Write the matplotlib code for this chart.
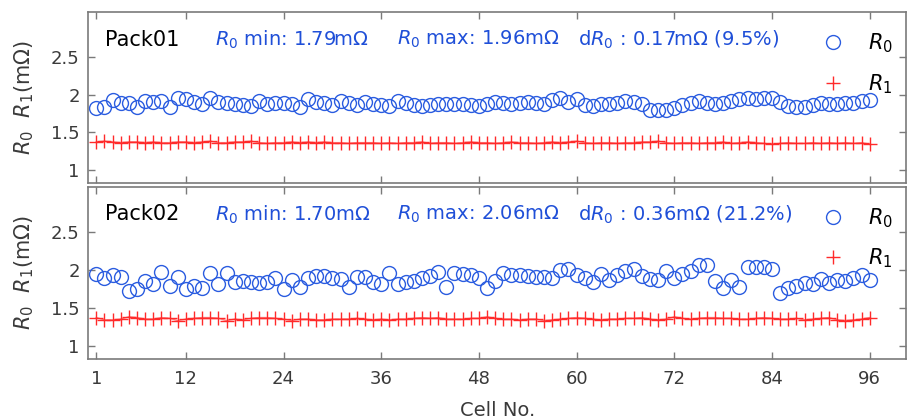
import matplotlib
matplotlib.use('Agg')
import matplotlib.pyplot as plt
import numpy as np

plt.rcParams['font.family'] = ['DejaVu Sans']
plt.rcParams['mathtext.fontset'] = 'dejavusans'

# data
cells = np.arange(1, 97)

pack01_r0 = [1.82, 1.83, 1.93, 1.89, 1.89, 1.83, 1.92, 1.90, 1.91, 1.84, 1.95, 1.94, 1.90, 1.87, 1.96, 1.90,
             1.89, 1.87, 1.86, 1.85, 1.91, 1.88, 1.89, 1.89, 1.87, 1.83, 1.94, 1.90, 1.89, 1.86, 1.92, 1.89,
             1.86, 1.90, 1.87, 1.86, 1.85, 1.91, 1.89, 1.86, 1.85, 1.86, 1.87, 1.87, 1.88, 1.87, 1.86, 1.85,
             1.88, 1.90, 1.89, 1.88, 1.89, 1.90, 1.89, 1.87, 1.93, 1.95, 1.90, 1.94, 1.86, 1.85, 1.87, 1.88,
             1.89, 1.92, 1.90, 1.88, 1.80, 1.79, 1.80, 1.82, 1.86, 1.89, 1.92, 1.89, 1.88, 1.89, 1.92, 1.94,
             1.95, 1.94, 1.95, 1.96, 1.90, 1.85, 1.84, 1.83, 1.86, 1.89, 1.87, 1.88, 1.89, 1.89, 1.91, 1.93]
pack01_r1 = [1.37, 1.38, 1.37, 1.36, 1.37, 1.37, 1.36, 1.37, 1.36, 1.36, 1.37, 1.37, 1.36, 1.37, 1.38, 1.36,
             1.36, 1.37, 1.37, 1.38, 1.36, 1.35, 1.36, 1.36, 1.37, 1.36, 1.37, 1.36, 1.37, 1.36, 1.36, 1.35,
             1.36, 1.36, 1.36, 1.35, 1.36, 1.35, 1.36, 1.36, 1.37, 1.35, 1.36, 1.36, 1.35, 1.36, 1.37, 1.36,
             1.36, 1.35, 1.36, 1.37, 1.36, 1.36, 1.35, 1.36, 1.37, 1.36, 1.37, 1.38, 1.36, 1.35, 1.36, 1.36,
             1.35, 1.36, 1.36, 1.37, 1.37, 1.38, 1.36, 1.35, 1.36, 1.36, 1.35, 1.36, 1.36, 1.37, 1.35, 1.36,
             1.37, 1.36, 1.35, 1.34, 1.35, 1.36, 1.35, 1.35, 1.36, 1.35, 1.36, 1.35, 1.36, 1.35, 1.36, 1.34]

pack02_r0 = [1.95, 1.89, 1.94, 1.91, 1.72, 1.75, 1.85, 1.82, 1.97, 1.79, 1.91, 1.75, 1.79, 1.76, 1.96, 1.82,
             1.96, 1.84, 1.86, 1.84, 1.83, 1.84, 1.89, 1.75, 1.87, 1.77, 1.90, 1.92, 1.92, 1.90, 1.88, 1.78,
             1.91, 1.91, 1.84, 1.82, 1.96, 1.82, 1.84, 1.86, 1.89, 1.92, 1.97, 1.77, 1.96, 1.95, 1.94, 1.90,
             1.76, 1.85, 1.96, 1.94, 1.94, 1.92, 1.91, 1.91, 1.90, 2.00, 2.01, 1.94, 1.90, 1.84, 1.95, 1.87,
             1.94, 1.98, 2.01, 1.92, 1.88, 1.87, 1.98, 1.90, 1.95, 1.98, 2.06, 2.06, 1.85, 1.76, 1.87, 1.77,
             2.04, 2.04, 2.04, 2.01, 1.70, 1.76, 1.79, 1.83, 1.82, 1.88, 1.83, 1.87, 1.85, 1.89, 1.94, 1.87]
pack02_r1 = [1.37, 1.34, 1.34, 1.35, 1.38, 1.37, 1.35, 1.35, 1.37, 1.36, 1.33, 1.35, 1.36, 1.37, 1.37, 1.36,
             1.33, 1.35, 1.34, 1.36, 1.37, 1.37, 1.36, 1.35, 1.33, 1.35, 1.35, 1.34, 1.34, 1.35, 1.35, 1.35,
             1.36, 1.35, 1.34, 1.35, 1.34, 1.35, 1.35, 1.36, 1.37, 1.36, 1.37, 1.35, 1.35, 1.35, 1.36, 1.36,
             1.38, 1.36, 1.35, 1.35, 1.34, 1.35, 1.35, 1.33, 1.34, 1.35, 1.36, 1.37, 1.36, 1.35, 1.34, 1.35,
             1.35, 1.36, 1.36, 1.37, 1.35, 1.34, 1.35, 1.38, 1.36, 1.35, 1.36, 1.37, 1.37, 1.36, 1.36, 1.35,
             1.35, 1.36, 1.37, 1.36, 1.35, 1.35, 1.36, 1.34, 1.35, 1.36, 1.37, 1.34, 1.33, 1.34, 1.35, 1.37]

pack_names = ['Pack01', 'Pack02']
r0_min = ['1.79', '1.70']
r0_max = ['1.96', '2.06']
dr0 = ['0.17mΩ (9.5%)', '0.36mΩ (21.2%)']

xticks = [1, 12, 24, 36, 48, 60, 72, 84, 96]
yticks = [1, 1.5, 2, 2.5]

blue = '#1f4fd8'
red = '#ff2a2a'
grey = '#7a7a7a'
dark = '#3a3a3a'

fig = plt.figure(figsize=(9.09, 4.2), dpi=100)
ax1 = fig.add_axes([0.097, 0.564, 0.900, 0.407])
ax2 = fig.add_axes([0.097, 0.145, 0.900, 0.410])

for ax, name, r0, r1, mn, mx, d in zip([ax1, ax2], pack_names, [pack01_r0, pack02_r0],
                                       [pack01_r1, pack02_r1], r0_min, r0_max, dr0):
    ax.plot(cells, r0, 'o', mfc='none', mec='#2a5ce0', ms=10, mew=1.0, label='$R_0$')
    ax.plot(cells, r1, '-', color=red, lw=1.0, alpha=0.6)
    ax.plot(cells, r1, '+', color=red, ms=9.5, mew=1.0, label='$R_1$')

    ax.set_xlim(0, 100.5)
    ax.set_ylim(0.82, 3.1)
    ax.set_xticks(xticks)
    ax.set_yticks(yticks)
    ax.set_yticklabels(['1', '1.5', '2', '2.5'])
    ax.tick_params(direction='in', top=True, right=True, colors=grey, labelcolor=dark,
                   labelsize=13, length=5, width=1)
    ax.tick_params(axis='x', pad=8)
    ax.tick_params(axis='y', pad=6)
    for s in ax.spines.values():
        s.set_color(grey)
        s.set_linewidth(1.2)

    ax.text(0.021, 0.84, name, transform=ax.transAxes, fontsize=15, color='black', va='center')
    ax.text(0.155, 0.84, '$R_0$ min: ' + mn + 'mΩ', transform=ax.transAxes, fontsize=14,
            color=blue, va='center')
    ax.text(0.378, 0.84, '$R_0$ max: ' + mx + 'mΩ', transform=ax.transAxes, fontsize=14,
            color=blue, va='center')
    ax.text(0.599, 0.84, 'd$R_0$ : ' + d, transform=ax.transAxes, fontsize=14,
            color=blue, va='center')

    ax.legend(loc='upper right', bbox_to_anchor=(1.006, 0.995), frameon=False, fontsize=15,
              labelspacing=0.8, handletextpad=0.9, handlelength=1.5)
    ax.set_ylabel('$R_0$  $R_1$(mΩ)', fontsize=15, color=dark, labelpad=11)

ax1.tick_params(labelbottom=False)
ax2.set_xlabel('Cell No.', fontsize=14, color=dark, labelpad=9)

fig.savefig('out.png', dpi=100)
